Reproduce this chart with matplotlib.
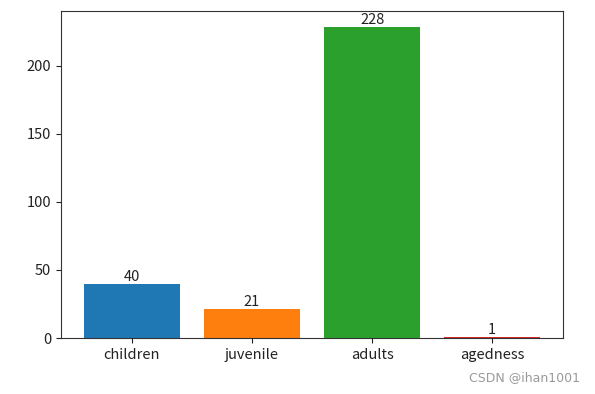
import matplotlib.pyplot as plt

plt.rcParams['font.family'] = ['Noto Sans CJK SC', 'DejaVu Sans']

categories = ["children", "juvenile", "adults", "agedness"]
counts = [40, 21, 228, 1]

fig = plt.figure(figsize=(5.95, 3.94), dpi=100)
ax = fig.add_axes([0.1025, 0.142, 0.844, 0.83])
bars = ax.bar(categories, counts, color=["C0", "C1", "C2", "C3"])
ax.set_ylim(0, 240)
ax.set_yticks([0, 50, 100, 150, 200])
ax.tick_params(labelsize=10.5, colors="#222222")
for spine in ax.spines.values():
    spine.set_color("#333333")

# value labels on top of bars
for b, v in zip(bars, counts):
    ax.text(b.get_x() + b.get_width() / 2, v, str(v), ha="center", va="bottom",
            fontsize=10.5, color="#222222")

fig.text(0.975, 0.025, "CSDN @ihan1001", ha="right", va="bottom",
         fontsize=9, color="#999999", family="DejaVu Sans")

fig.savefig("out.png", dpi=100)
